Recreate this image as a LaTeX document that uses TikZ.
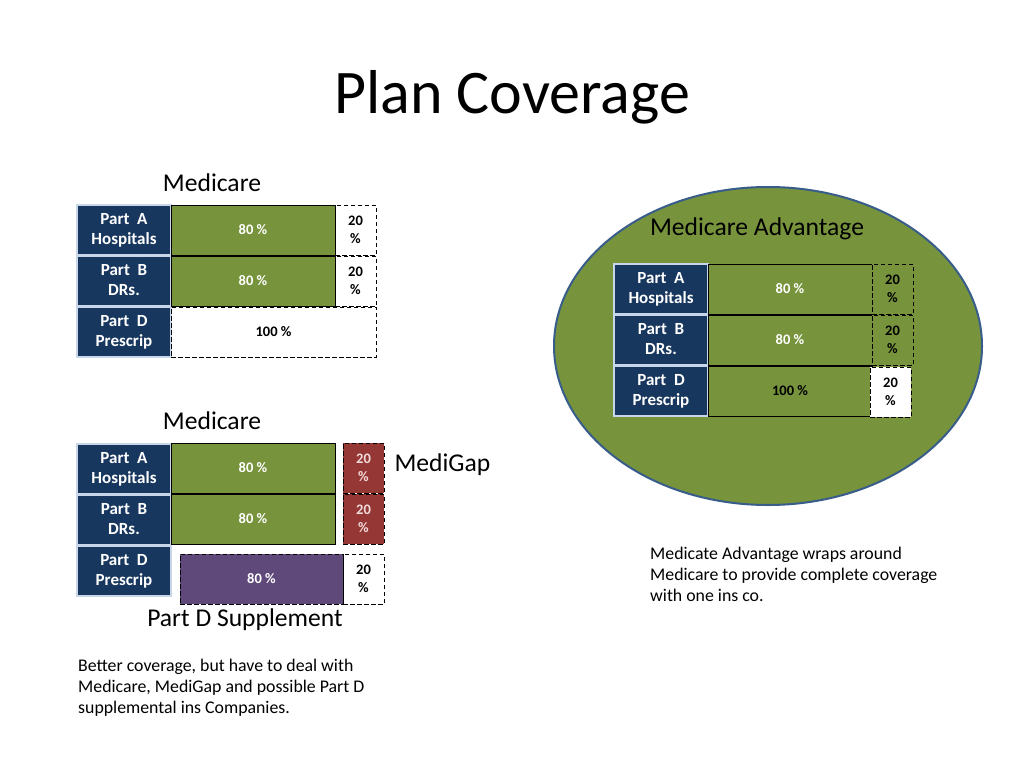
\documentclass[tikz,border=0pt]{standalone}
\usepackage{fontspec}
\setmainfont{Carlito}
\usetikzlibrary{shapes.geometric}
\definecolor{navy}{RGB}{23,55,94}
\definecolor{labline}{RGB}{200,214,234}
\definecolor{olive}{RGB}{119,147,60}
\definecolor{brick}{RGB}{149,55,53}
\definecolor{plum}{RGB}{95,73,122}
\definecolor{rim}{RGB}{56,93,138}
\definecolor{pinkish}{RGB}{242,220,219}
\tikzset{
  box/.style={inner sep=0pt, outer sep=0pt, anchor=north west, align=center},
  lab/.style={box, fill=navy, draw=labline, line width=1.3pt, text=white,
    font=\fontsize{17}{20.5}\selectfont\bfseries, minimum width=94pt, minimum height=50pt,
    text depth=2pt},
  pct/.style={box, draw=black, line width=0.8pt,
    font=\fontsize{14.5}{18}\selectfont\bfseries, minimum height=50pt},
  gpct/.style={pct, fill=olive, text=white},
  dpct/.style={pct, dashed, dash pattern=on 4.5pt off 2.5pt},
  head/.style={font=\fontsize{25.6}{30}\selectfont},
  note/.style={font=\fontsize{17.8}{21}\selectfont, align=left, anchor=north west, inner sep=0pt}
}
\begin{document}
\begin{tikzpicture}[x=1pt,y=-1pt]
\useasboundingbox (0,0) rectangle (1024,768);
\fill[white] (0,0) rectangle (1024,768);
% title
\node[font=\fontsize{62}{70}\selectfont] (title) at (512,97) {Plan Coverage};

% ---------- table 1 ----------
\node[head] (med1) at (212,183) {Medicare};
\node[lab] (a1) at (77,205) {Part~~A\\Hospitals};
\node[lab] (b1) at (77,256) {Part~~B\\DRs.};
\node[lab] (d1) at (77,307) {Part~~D\\Prescrip};
\node[gpct, minimum width=164pt] (a1p) at (171,205) {80 \%};
\node[gpct, minimum width=164pt] (b1p) at (171,256) {80 \%};
\node[dpct, minimum width=41pt] (a1g) at (335,205) {20\\\%};
\node[dpct, minimum width=41pt] (b1g) at (335,256) {20\\\%};
\node[dpct, minimum width=205pt] (d1p) at (171,307) {100 \%};

% ---------- table 2 ----------
\node[head] (med2) at (212,421) {Medicare};
\node[lab] (a2) at (77,444) {Part~~A\\Hospitals};
\node[lab] (b2) at (77,495) {Part~~B\\DRs.};
\node[lab] (d2) at (77,546) {Part~~D\\Prescrip};
\node[gpct, minimum width=164pt] (a2p) at (171,443) {80 \%};
\node[gpct, minimum width=164pt] (b2p) at (171,494) {80 \%};
\node[dpct, fill=brick, text=pinkish, minimum width=41pt] (a2g) at (343,443) {20\\\%};
\node[dpct, fill=brick, text=pinkish, minimum width=41pt] (b2g) at (343,494) {20\\\%};
\node[dpct, fill=plum, text=white, minimum width=163pt] (d2p) at (180,554) {80 \%};
\node[dpct, minimum width=41pt] (d2g) at (343,554) {20\\\%};
\node[head, anchor=west] (gap) at (391,465) {MediGap};
\node[head] (supp) at (245,620) {Part D Supplement};
\node[note] (n1) at (78,659) {Better coverage, but have to deal with\\Medicare, MediGap and possible Part D\\supplemental ins Companies.};

% ---------- Medicare Advantage ----------
\node[ellipse, draw=rim, line width=2pt, fill=olive, minimum width=428pt, minimum height=318pt, inner sep=0pt] (adv) at (768,346) {};
\node[head] (advt) at (757,229) {Medicare Advantage};
\node[lab] (a3) at (614,264) {Part~~A\\Hospitals};
\node[lab] (b3) at (614,315) {Part~~B\\DRs.};
\node[lab] (d3) at (614,366) {Part~~D\\Prescrip};
\node[gpct, minimum width=164pt] (a3p) at (708,264) {80 \%};
\node[gpct, minimum width=164pt] (b3p) at (708,315) {80 \%};
\node[pct, fill=olive, text=black, minimum width=164pt] (d3p) at (708,366) {100 \%};
\node[dpct, fill=olive, text=black, minimum width=41pt] (a3g) at (872,264) {20\\\%};
\node[dpct, fill=olive, text=black, minimum width=41pt] (b3g) at (872,315) {20\\\%};
\node[dpct, fill=white, text=black, minimum width=41pt] (d3g) at (870,367) {20\\\%};
\node[note] (n2) at (650,547) {Medicate Advantage wraps around\\Medicare to provide complete coverage\\with one ins co.};
\end{tikzpicture}
\end{document}
